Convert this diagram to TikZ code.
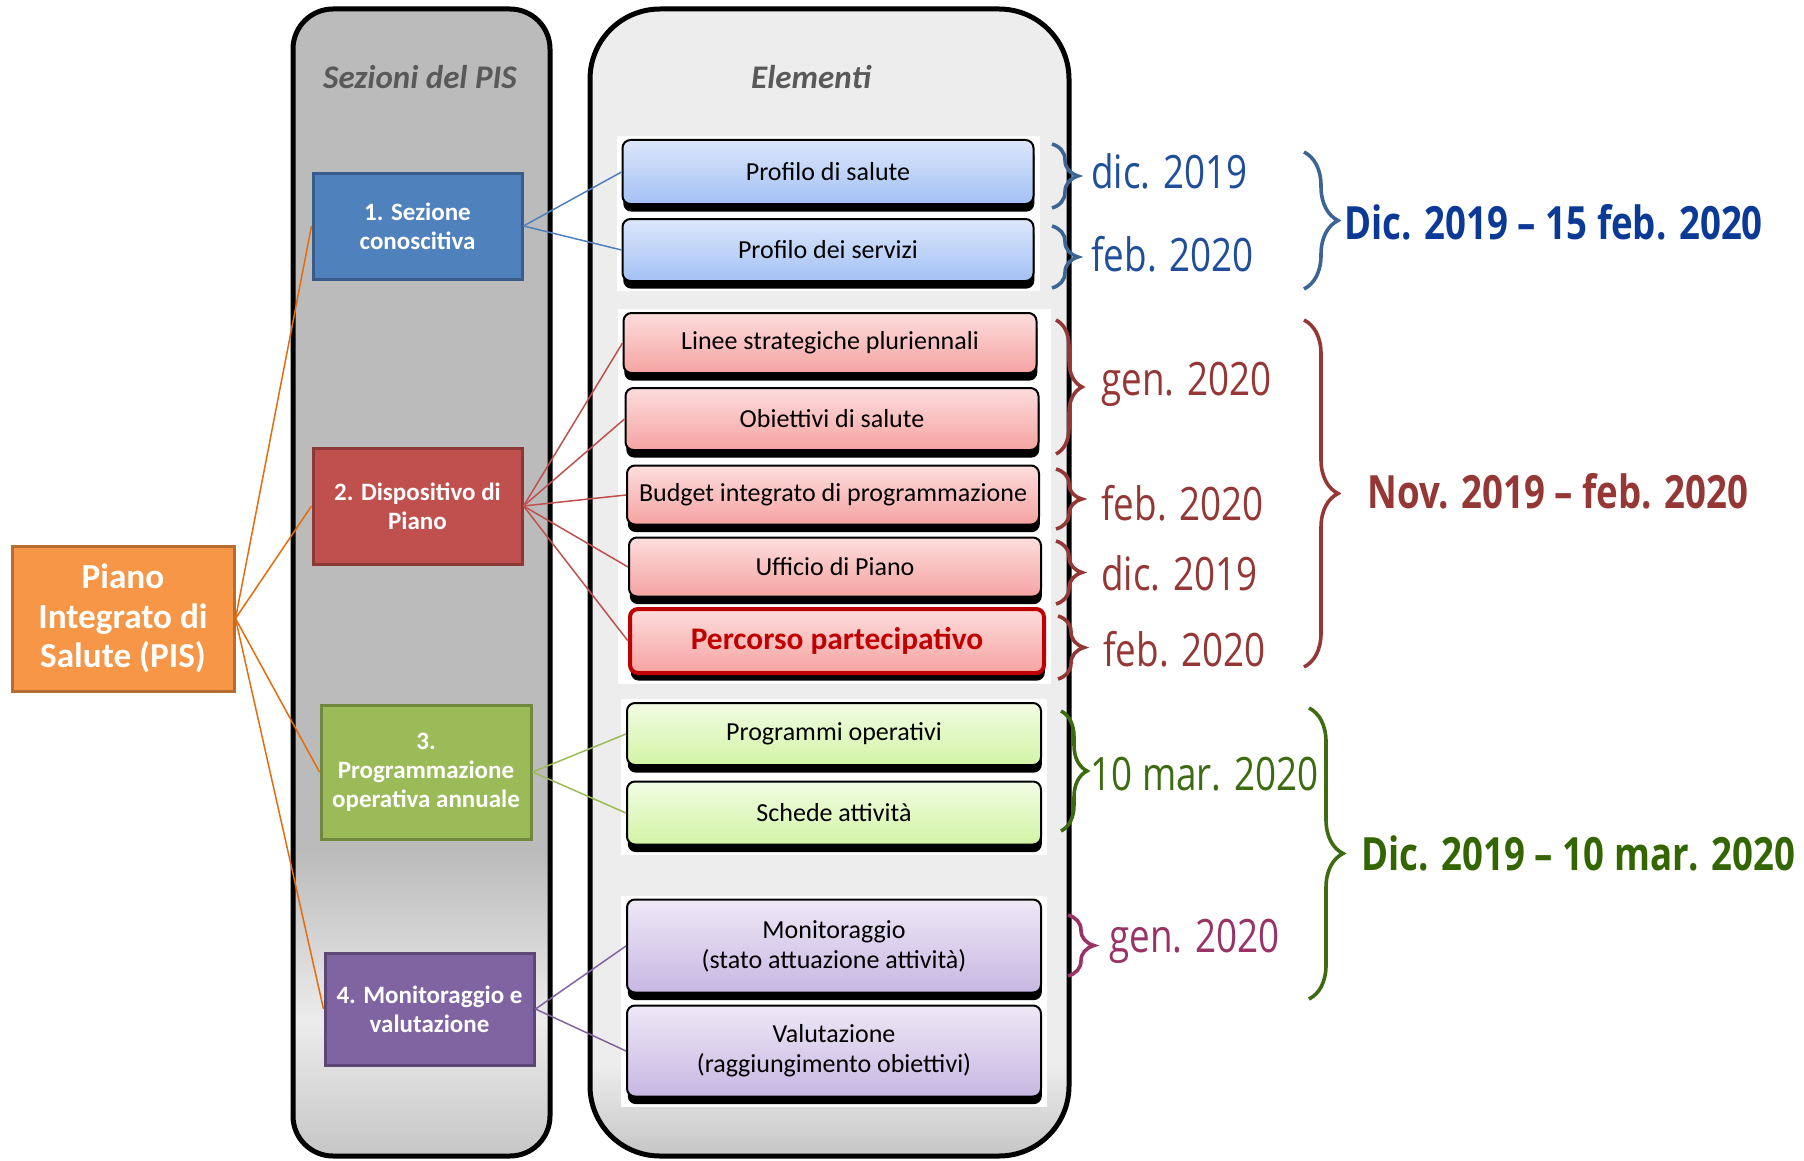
\documentclass[tikz,border=0pt]{standalone}
\usepackage{fontspec}
\setmainfont{Carlito}
\newfontfamily\datefont[FakeStretch=0.8]{Open Sans}
\usepackage{tikz}
\usetikzlibrary{decorations.pathreplacing}
\usetikzlibrary{shadows,fit,backgrounds}

\definecolor{secblue}{HTML}{4F81BD}
\definecolor{secblueb}{HTML}{385D8A}
\definecolor{secred}{HTML}{C0504D}
\definecolor{secredb}{HTML}{8C3836}
\definecolor{secgreen}{HTML}{9BBB59}
\definecolor{secgreenb}{HTML}{71893F}
\definecolor{secviolet}{HTML}{8064A2}
\definecolor{secvioletb}{HTML}{5C4776}
\definecolor{pisfill}{HTML}{F79646}
\definecolor{pisborder}{HTML}{B66D31}
\definecolor{pisline}{HTML}{E46C0A}
\definecolor{percred}{HTML}{C00000}
\definecolor{dateblue}{HTML}{1F4E9A}
\definecolor{bracblue}{HTML}{3C6596}
\definecolor{rangeblue}{HTML}{0A3A96}
\definecolor{datered}{HTML}{953735}
\definecolor{dategreen}{HTML}{3D6B10}
\definecolor{rangegreen}{HTML}{336600}
\definecolor{dateviolet}{HTML}{993366}
\definecolor{titlegray}{HTML}{595959}
\definecolor{colB}{HTML}{BBBBBB}
\definecolor{colC}{HTML}{C6C6C6}
\definecolor{colE}{HTML}{ECECEC}
\definecolor{colL}{HTML}{EDEDED}

\pgfdeclareverticalshading{leftcol}{100bp}{color(0bp)=(colC); color(25bp)=(colC); color(30.9bp)=(colE); color(38.3bp)=(colB); color(100bp)=(colB)}
\pgfdeclareverticalshading{rightcol}{100bp}{color(0bp)=(colC); color(25bp)=(colC); color(29bp)=(colL); color(100bp)=(colL)}

\begin{document}
\begin{tikzpicture}[x=0.5pt,y=-0.5pt]
    \tikzstyle{column}  = [line width=2.5pt,draw=black,shade]
    \tikzstyle{coltitle} = [text=titlegray,font=\fontsize{16.5}{20}\selectfont\bfseries\itshape]
    \tikzstyle{section} = [
      rectangle,
      line width=1.5pt,
      text=white,
      align=center,
      inner sep=2pt,
      font=\fontsize{12.5}{14.6}\selectfont\bfseries,
    ]
    \tikzstyle{element} = [
      rectangle,
      rounded corners=4pt,
      draw=black,
      line width=1pt,
      align=center,
      inner sep=2pt,
      font=\fontsize{13}{15}\selectfont,
      drop shadow={shadow xshift=0.4pt,shadow yshift=-3.8pt,opacity=1,fill=black},
    ]
    \tikzstyle{elblue}   = [top color={rgb,255:red,220;green,231;blue,251},bottom color={rgb,255:red,163;green,193;blue,245}]
    \tikzstyle{elred}    = [top color={rgb,255:red,253;green,221;blue,221},bottom color={rgb,255:red,245;green,163;blue,161}]
    \tikzstyle{elgreen}  = [top color={rgb,255:red,241;green,252;blue,227},bottom color={rgb,255:red,211;green,244;blue,166}]
    \tikzstyle{elviolet} = [top color={rgb,255:red,238;green,232;blue,246},bottom color={rgb,255:red,200;green,183;blue,227}]
    \tikzstyle{link}  = [line width=0.75pt]
    \tikzstyle{pad}   = [fill=white,inner xsep=2.5pt,inner ysep=3pt,yshift=-1.5pt]
    \tikzstyle{brc}   = [decorate,decoration={brace,amplitude=13pt},line width=1.8pt]
    \tikzstyle{bigbrc} = [decorate,decoration={brace,amplitude=17pt},line width=1.8pt]
    \tikzstyle{datelbl} = [anchor=west,inner sep=0pt,font=\datefont\fontsize{23}{26}\selectfont]
    \tikzstyle{rangelbl} = [anchor=west,inner sep=0pt,font=\datefont\bfseries\fontsize{22.9}{26}\selectfont]

    \useasboundingbox (0,0) rectangle (1804,1161);

    % columns
    \begin{scope}[on background layer]
      \path[column,shading=leftcol,rounded corners=20pt] (293,9) rectangle (550,1156);
      \path[column,shading=rightcol,rounded corners=35pt] (590,9) rectangle (1069,1156);
    \end{scope}
    \node[coltitle] (sezioni_label) at (420,77) {Sezioni del PIS};
    \node[coltitle] (elementi_label) at (811,77) {Elementi};

    % piano
    \node[rectangle,fill=pisfill,draw=pisborder,line width=1.5pt,text=white,align=center,
          minimum width=111pt,minimum height=72.5pt,
          font=\fontsize{17.6}{19.6}\selectfont\bfseries] (pis) at (123,618.5)
      {Piano\\Integrato di\\Salute (PIS)};

    % sezioni
    \node[section,fill=secblue,draw=secblueb,minimum width=104.5pt,minimum height=53pt] (sec1) at
      (417.5,226) {1. Sezione\\conoscitiva};
    \node[section,fill=secred,draw=secredb,minimum width=104.5pt,minimum height=58pt] (sec2) at
      (417.5,506) {2. Dispositivo di\\Piano};
    \node[section,fill=secgreen,draw=secgreenb,minimum width=105pt,minimum height=67pt] (sec3) at
      (426,772) {3.\\Programmazione\\operativa annuale};
    \node[section,fill=secviolet,draw=secvioletb,minimum width=104.5pt,minimum height=56pt] (sec4) at
      (429.5,1009) {4. Monitoraggio e\\valutazione};

    % elementi
    \node[element,elblue,minimum width=205.5pt,minimum height=32pt] (salute) at
      (828,172) {Profilo di salute};
    \node[element,elblue,minimum width=205.5pt,minimum height=31pt] (servizi) at
      (828,250) {Profilo dei servizi};
    \node[element,elred,minimum width=206.5pt,minimum height=30pt] (linee) at
      (830,343) {Linee strategiche pluriennali};
    \node[element,elred,minimum width=206.5pt,minimum height=31pt] (obiettivi) at
      (832,419) {Obiettivi di salute};
    \node[element,elred,minimum width=206pt,minimum height=29.5pt] (budget) at
      (833,495) {Budget integrato di programmazione};
    \node[element,elred,minimum width=206pt,minimum height=29.5pt] (ufficio) at
      (835,567) {Ufficio di Piano};
    \node[element,elred,draw=percred,line width=2pt,minimum width=207pt,minimum height=32pt,
          text=percred,font=\fontsize{15.7}{18}\selectfont\bfseries] (percorso) at
      (837,641) {Percorso partecipativo};
    \node[element,elgreen,minimum width=207pt,minimum height=31pt] (programmi) at
      (834,734) {Programmi operativi};
    \node[element,elgreen,minimum width=207pt,minimum height=31.5pt] (schede) at
      (834,813) {Schede attività};
    \node[element,elviolet,minimum width=207pt,minimum height=46.5pt] (monitor) at
      (834,946) {Monitoraggio\\(stato attuazione attività)};
    \node[element,elviolet,minimum width=207pt,minimum height=45.5pt] (valut) at
      (834,1051) {Valutazione\\(raggiungimento obiettivi)};

    % white pads under the groups
    \begin{scope}[on background layer]
      \node[pad,fit=(salute)(servizi)] (pad1) {};
      \node[pad,fit=(linee)(percorso)] (pad2) {};
      \node[pad,fit=(programmi)(schede)] (pad3) {};
      \node[pad,fit=(monitor)(valut)] (pad4) {};
    \end{scope}

    % piano -> sezioni
    \draw[link,draw=pisline] (pis.east) -- (sec1.west);
    \draw[link,draw=pisline] (pis.east) -- (sec2.west);
    \draw[link,draw=pisline] (pis.east) -- (sec3.west);
    \draw[link,draw=pisline] (pis.east) -- (sec4.west);

    % sezione 1 -> elementi
    \draw[link,draw=secblue] (sec1.east) -- (salute.west);
    \draw[link,draw=secblue] (sec1.east) -- (servizi.west);

    % sezione 2 -> elementi
    \draw[link,draw=secred] (sec2.east) -- (linee.west);
    \draw[link,draw=secred] (sec2.east) -- (obiettivi.west);
    \draw[link,draw=secred] (sec2.east) -- (budget.west);
    \draw[link,draw=secred] (sec2.east) -- (ufficio.west);
    \draw[link,draw=secred] (sec2.east) -- (percorso.west);

    % sezione 3 -> elementi
    \draw[link,draw=secgreen] (sec3.east) -- (programmi.west);
    \draw[link,draw=secgreen] (sec3.east) -- (schede.west);

    % sezione 4 -> elementi
    \draw[link,draw=secviolet] (sec4.east) -- (monitor.west);
    \draw[link,draw=secviolet] (sec4.east) -- (valut.west);

    % date
    \draw[brc,draw=bracblue] (1052,144) -- (1052,208);
    \node[datelbl,text=dateblue] (d_salute) at (1091,171) {dic. 2019};
    \draw[brc,draw=bracblue] (1052,226) -- (1052,288);
    \node[datelbl,text=dateblue] (d_servizi) at (1091,254) {feb. 2020};
    \draw[bigbrc,draw=bracblue] (1304,152) -- (1304,289);
    \node[rangelbl,text=rangeblue] (r_sec1) at (1344,222) {Dic. 2019 – 15 feb. 2020};

    \draw[brc,draw=datered] (1056,320) -- (1056,454);
    \node[datelbl,text=datered] (d_linee) at (1101,384) {gen. 2020};
    \draw[brc,draw=datered] (1056,469) -- (1056,529);
    \node[datelbl,text=datered] (d_budget) at (1101,503) {feb. 2020};
    \draw[brc,draw=datered] (1056,541) -- (1056,604);
    \node[datelbl,text=datered] (d_ufficio) at (1101,573) {dic. 2019};
    \draw[brc,draw=datered] (1058,616) -- (1058,679);
    \node[datelbl,text=datered] (d_percorso) at (1103,649) {feb. 2020};
    \draw[bigbrc,draw=datered] (1304,320) -- (1304,667);
    \node[rangelbl,text=datered] (r_sec2) at (1367,491) {Nov. 2019 – feb. 2020};

    \draw[brc,draw=dategreen] (1061,711) -- (1061,831);
    \node[datelbl,text=dategreen] (d_programmi) at (1090,774) {10 mar. 2020};
    \draw[brc,draw=dateviolet] (1068,915) -- (1068,976);
    \node[datelbl,text=dateviolet] (d_monitor) at (1109,941) {gen. 2020};
    \draw[bigbrc,draw=dategreen] (1309,708) -- (1309,999);
    \node[rangelbl,text=rangegreen] (r_sec3) at (1361,853) {Dic. 2019 – 10 mar. 2020};
\end{tikzpicture}
\end{document}
